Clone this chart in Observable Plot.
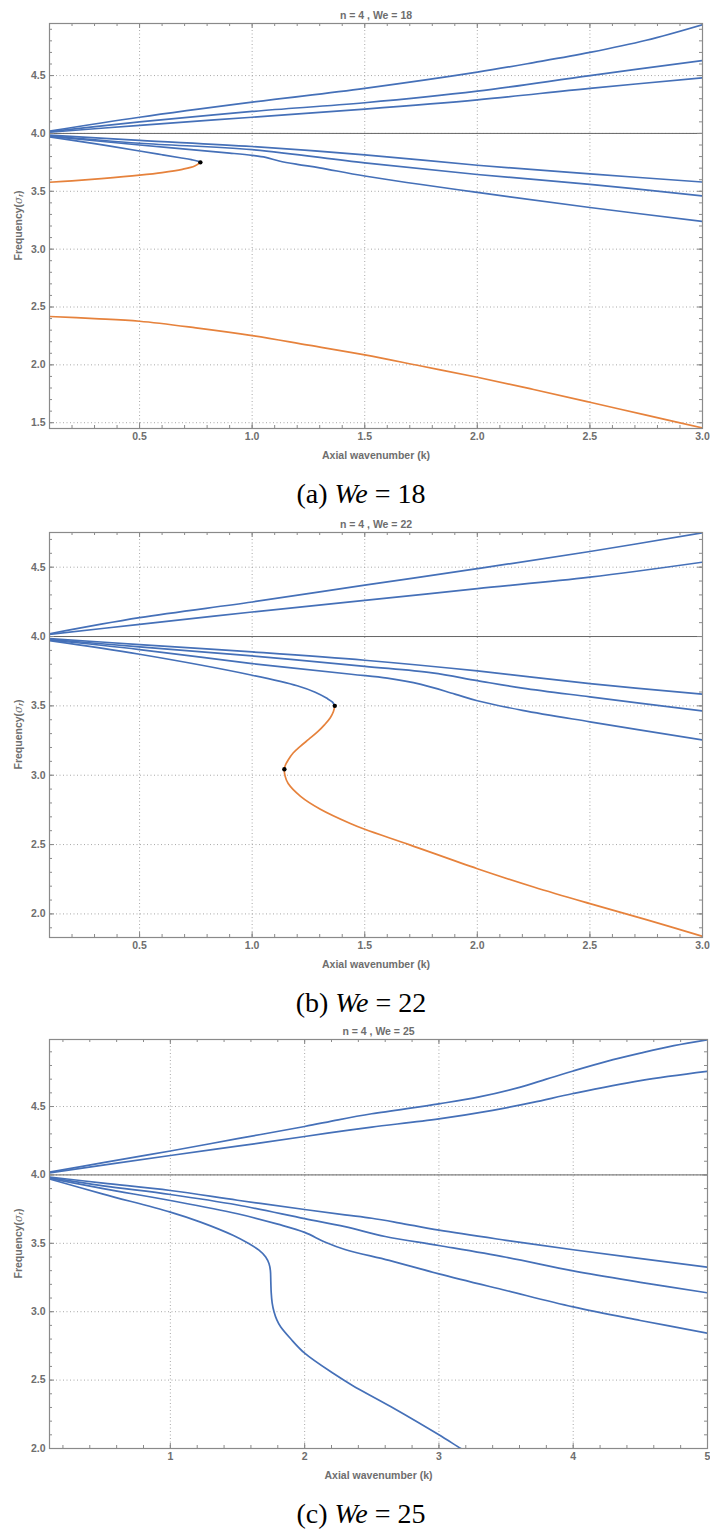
<!DOCTYPE html>
<html><head><meta charset="utf-8">
<script src="https://cdn.jsdelivr.net/npm/d3@7"></script>
<script src="https://cdn.jsdelivr.net/npm/@observablehq/plot@0.6"></script>
<style>
body{margin:0;background:#fff;}
svg{display:block;}
</style></head><body><div id="root"></div>
<script>
// ---------- data: [k, sigma_r] ----------
// Panel (a) We = 18
const we18_up1 = [[0.1,4.02],[0.5,4.14],[1.0,4.27],[1.5,4.39],[2.0,4.53],[2.25,4.612],[2.5,4.70],[2.75,4.805],[3.0,4.94]];
const we18_up2 = [[0.1,4.015],[0.5,4.10],[1.0,4.19],[1.5,4.265],[2.0,4.365],[2.5,4.50],[3.0,4.63]];
const we18_up3 = [[0.1,4.01],[0.5,4.07],[1.0,4.14],[1.5,4.21],[2.0,4.29],[2.5,4.39],[3.0,4.48]];
const we18_low1 = [[0.1,3.985],[0.5,3.94],[1.0,3.887],[1.5,3.815],[2.0,3.725],[2.5,3.65],[3.0,3.58]];
const we18_low2 = [[0.1,3.98],[0.5,3.915],[1.0,3.86],[1.5,3.745],[2.0,3.645],[2.5,3.56],[3.0,3.46]];
const we18_low3 = [[0.1,3.975],[0.5,3.90],[0.9,3.83],[1.0,3.81],[1.06,3.793],[1.12,3.762],[1.2,3.733],[1.3,3.703],[1.5,3.632],[2.0,3.49],[2.5,3.36],[3.0,3.24]];
const we18_turnBlue = [[0.1,3.97],[0.3,3.912],[0.5,3.848],[0.6,3.816],[0.68,3.79],[0.73,3.773],[0.76,3.76],[0.77,3.75]];
const we18_turnOrange = [[0.77,3.75],[0.745,3.718],[0.69,3.69],[0.6,3.662],[0.5,3.64],[0.33,3.61],[0.2,3.59],[0.1,3.578]];
const we18_lowOrange = [[0.1,2.418],[0.3,2.40],[0.5,2.377],[0.75,2.32],[1.0,2.253],[1.25,2.17],[1.5,2.087],[1.75,1.99],[2.0,1.893],[2.25,1.787],[2.5,1.677],[2.75,1.565],[3.0,1.455]];
const we18_points = [[0.77,3.75]];

// Panel (b) We = 22
const we22_up1 = [[0.1,4.02],[0.5,4.136],[1.0,4.249],[1.5,4.37],[2.0,4.489],[2.5,4.613],[3.0,4.748]];
const we22_up2 = [[0.1,4.015],[0.5,4.088],[1.0,4.177],[1.5,4.26],[2.0,4.345],[2.5,4.428],[3.0,4.536]];
const we22_low1 = [[0.1,3.985],[0.5,3.942],[1.0,3.889],[1.5,3.829],[2.0,3.752],[2.5,3.661],[3.0,3.584]];
const we22_low2 = [[0.1,3.98],[0.5,3.925],[1.0,3.86],[1.5,3.785],[1.8,3.738],[2.0,3.682],[2.2,3.628],[2.5,3.565],[3.0,3.464]];
const we22_low3 = [[0.1,3.975],[0.5,3.906],[1.0,3.805],[1.44,3.728],[1.6,3.70],[1.75,3.655],[1.9,3.585],[2.0,3.537],[2.2,3.468],[2.5,3.385],[3.0,3.254]];
const we22_turnBlue = [[0.1,3.97],[0.5,3.872],[1.0,3.721],[1.2,3.645],[1.28,3.598],[1.33,3.556],[1.357,3.527],[1.367,3.5]];
const we22_turnOrange = [[1.367,3.5],[1.361,3.46],[1.347,3.415],[1.322,3.365],[1.29,3.312],[1.252,3.26],[1.215,3.21],[1.182,3.16],[1.16,3.11],[1.147,3.07],[1.143,3.043],[1.146,2.995],[1.16,2.94],[1.215,2.848],[1.303,2.755],[1.436,2.652],[1.5,2.61],[1.7,2.498],[2.0,2.326],[2.25,2.194],[2.5,2.074],[2.75,1.959],[3.0,1.838]];
const we22_points = [[1.367,3.5],[1.143,3.043]];

// Panel (c) We = 25
const we25_up1 = [[0.1,4.02],[0.5,4.09],[1.0,4.175],[1.5,4.265],[2.0,4.354],[2.25,4.403],[2.5,4.447],[3.0,4.52],[3.3,4.57],[3.6,4.64],[3.8,4.70],[4.0,4.76],[4.25,4.83],[4.5,4.89],[4.75,4.945],[5.0,4.988]];
const we25_up2 = [[0.1,4.015],[1.0,4.142],[1.5,4.21],[2.0,4.281],[2.25,4.317],[2.5,4.35],[3.0,4.41],[3.4,4.472],[3.7,4.53],[4.0,4.595],[4.5,4.69],[5.0,4.758]];
const we25_low1 = [[0.1,3.985],[0.5,3.94],[1.0,3.886],[1.5,3.815],[2.0,3.747],[2.3,3.708],[2.5,3.683],[2.7,3.65],[3.0,3.596],[3.5,3.522],[4.0,3.453],[5.0,3.326]];
const we25_low2 = [[0.1,3.98],[0.5,3.92],[1.0,3.857],[1.5,3.78],[2.0,3.68],[2.3,3.622],[2.6,3.55],[3.0,3.484],[3.5,3.398],[4.0,3.298],[4.5,3.215],[5.0,3.138]];
const we25_low3 = [[0.1,3.975],[0.5,3.9],[1.0,3.813],[1.5,3.716],[1.8,3.64],[2.0,3.58],[2.15,3.51],[2.3,3.455],[2.63,3.375],[3.0,3.277],[3.5,3.155],[4.0,3.035],[4.5,2.936],[5.0,2.843]];
const we25_turn = [[0.1,3.97],[0.5,3.86],[1.0,3.728],[1.225,3.655],[1.47,3.557],[1.58,3.50],[1.66,3.45],[1.71,3.40],[1.735,3.35],[1.745,3.30],[1.748,3.22],[1.751,3.14],[1.758,3.065],[1.772,3.0],[1.793,2.94],[1.821,2.89],[1.896,2.802],[2.0,2.697],[2.218,2.546],[2.356,2.461],[2.64,2.307],[3.0,2.1],[3.163,2.0],[3.2,1.98]];

// ticks
const xMajorAB = [0.5,1.0,1.5,2.0,2.5,3.0];
const xMajorC = [1,2,3,4,5];
const yMajorA = [1.5,2.0,2.5,3.0,3.5,4.0,4.5];
const yMajorB = [2.0,2.5,3.0,3.5,4.0,4.5];
const yMajorC = [2.0,2.5,3.0,3.5,4.0,4.5];

const titles = ["n = 4 , We = 18","n = 4 , We = 22","n = 4 , We = 25"];
const captionLetters = ["(a) ","(b) ","(c) "];
const captionValues = [" = 18"," = 22"," = 25"];

// ---------- styling ----------
const BLUE = "#4570b8", ORANGE = "#e6823c", FRAME = "#8a8a8a", GRID = "#a8a8a8", AXIS = "#666", TEXT = "#6e6e6e";

const panels = [
  {height: 508, marginTop: 23, marginBottom: 80, marginRight: 8,
   xDomain: [0.1, 3.0], yDomain: [1.45, 4.95],
   xMajor: xMajorAB, xMinor: d3.range(1, 30).map(i => i / 10), xFormat: d3.format(".1f"),
   yMajor: yMajorA, yMinor: d3.range(15, 50).map(i => i / 10),
   blue: [we18_up1, we18_up2, we18_up3, we18_low1, we18_low2, we18_low3, we18_turnBlue],
   orange: [we18_turnOrange, we18_lowOrange], points: we18_points, capBase: 503},
  {height: 507, marginTop: 24, marginBottom: 78, marginRight: 8,
   xDomain: [0.1, 3.0], yDomain: [1.83, 4.75],
   xMajor: xMajorAB, xMinor: d3.range(1, 30).map(i => i / 10), xFormat: d3.format(".1f"),
   yMajor: yMajorB, yMinor: d3.range(19, 48).map(i => i / 10),
   blue: [we22_up1, we22_up2, we22_low1, we22_low2, we22_low3, we22_turnBlue],
   orange: [we22_turnOrange], points: we22_points, capBase: 504},
  {height: 514, marginTop: 24, marginBottom: 81, marginRight: 3,
   xDomain: [0.1, 5.0], yDomain: [2.0, 4.99],
   xMajor: xMajorC, xMinor: d3.range(1, 25).map(i => i / 5), xFormat: d3.format("d"),
   yMajor: yMajorC, yMinor: d3.range(20, 50).map(i => i / 10),
   blue: [we25_up1, we25_up2, we25_low1, we25_low2, we25_low3, we25_turn],
   orange: [], points: [], capBase: 508}
];

const root = document.getElementById("root");
panels.forEach((p, idx) => {
  const width = 710, marginLeft = 49;
  const innerW = width - marginLeft - p.marginRight;
  const innerH = p.height - p.marginTop - p.marginBottom;
  const lineOpts = (color) => ({x: d => d[0], y: d => d[1], stroke: color, strokeWidth: 1.7, curve: "catmull-rom", clip: true});
  const marks = [
    Plot.gridX(p.xMajor, {stroke: GRID, strokeOpacity: 1, strokeDasharray: "1,2.5"}),
    Plot.gridY(p.yMajor, {stroke: GRID, strokeOpacity: 1, strokeDasharray: "1,2.5"}),
    Plot.ruleY([4], {stroke: AXIS, strokeWidth: 1}),
    // inward ticks: bottom, top, left, right
    Plot.ruleX(p.xMinor, {insetTop: innerH - 3, stroke: FRAME}),
    Plot.ruleX(p.xMajor, {insetTop: innerH - 5, stroke: FRAME}),
    Plot.ruleX(p.xMinor, {insetBottom: innerH - 3, stroke: FRAME}),
    Plot.ruleX(p.xMajor, {insetBottom: innerH - 5, stroke: FRAME}),
    Plot.ruleY(p.yMinor, {insetRight: innerW - 3, stroke: FRAME}),
    Plot.ruleY(p.yMajor, {insetRight: innerW - 5, stroke: FRAME}),
    Plot.ruleY(p.yMinor, {insetLeft: innerW - 3, stroke: FRAME}),
    Plot.ruleY(p.yMajor, {insetLeft: innerW - 5, stroke: FRAME}),
    ...p.blue.map(c => Plot.line(c, lineOpts(BLUE))),
    ...p.orange.map(c => Plot.line(c, lineOpts(ORANGE))),
    Plot.dot(p.points, {x: d => d[0], y: d => d[1], r: 2.2, fill: "#000", stroke: "none"}),
    Plot.frame({stroke: FRAME, strokeWidth: 1.2}),
    Plot.axisX(p.xMajor, {tickSize: 0, tickPadding: 4, tickFormat: p.xFormat, fontWeight: "bold", fontSize: 10.5, color: TEXT, label: null}),
    Plot.axisY(p.yMajor, {tickSize: 0, tickPadding: 4, tickFormat: ".1f", fontWeight: "bold", fontSize: 10.5, color: TEXT, label: null}),
    Plot.text([titles[idx]], {text: d => d, frameAnchor: "top", lineAnchor: "middle", dy: -8, fontWeight: "bold", fill: TEXT, fontSize: 10.5}),
    Plot.text(["Axial wavenumber (k)"], {text: d => d, frameAnchor: "bottom", lineAnchor: "middle", dy: 27, fontWeight: "bold", fill: TEXT, fontSize: 10.5})
  ];
  const chart = Plot.plot({
    width, height: p.height,
    marginLeft, marginRight: p.marginRight, marginTop: p.marginTop, marginBottom: p.marginBottom,
    x: {domain: p.xDomain, nice: false},
    y: {domain: p.yDomain, nice: false},
    style: {fontFamily: "'Liberation Sans', Arial, sans-serif", fontSize: "10px", background: "#fff", overflow: "visible"},
    marks
  });
  const svg = d3.select(chart);
  // y-axis label with subscript
  const yl = svg.append("text")
    .attr("transform", `translate(19,${p.marginTop + innerH / 2}) rotate(-90)`)
    .attr("text-anchor", "middle").attr("dominant-baseline", "middle")
    .attr("font-size", 10.5).attr("font-weight", "bold").attr("fill", TEXT)
    .attr("font-family", "'Liberation Sans', Arial, sans-serif");
  yl.append("tspan").text("Frequency(");
  yl.append("tspan").attr("font-style", "italic").attr("font-family", "'DejaVu Serif', serif").attr("font-weight", "normal").text("σ");
  yl.append("tspan").attr("font-style", "italic").attr("font-size", 7).attr("dy", 2).text("r");
  yl.append("tspan").attr("dy", -2).text(")");
  // caption
  const cap = svg.append("text")
    .attr("x", 361).attr("y", p.capBase)
    .attr("text-anchor", "middle")
    .attr("font-family", "'Liberation Serif', 'Times New Roman', serif")
    .attr("font-size", 28).attr("fill", "#000");
  cap.append("tspan").text(captionLetters[idx]);
  cap.append("tspan").attr("font-style", "italic").text("We");
  cap.append("tspan").text(captionValues[idx]);
  root.appendChild(chart);
});
</script>
</body></html>
